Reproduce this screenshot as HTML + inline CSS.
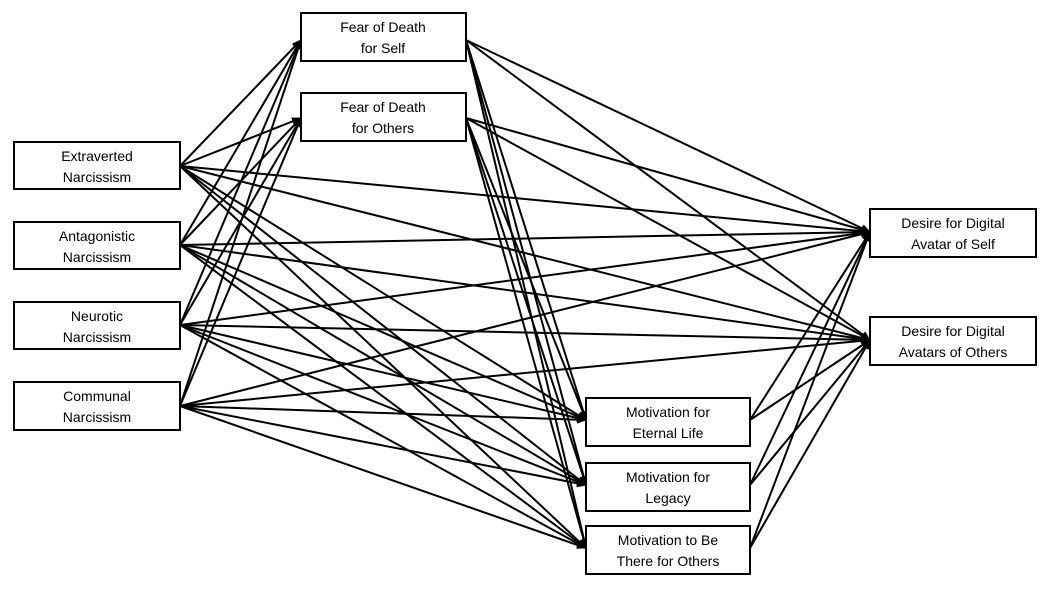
<!DOCTYPE html>
<html><head><meta charset="utf-8"><style>
body{margin:0;background:#fff;width:1048px;height:588px;overflow:hidden}
</style></head><body>
<svg width="1048" height="588" xmlns="http://www.w3.org/2000/svg" font-family="Liberation Sans, sans-serif" font-size="14">
<defs><marker id="a" markerWidth="10" markerHeight="8" refX="9" refY="4" orient="auto" markerUnits="userSpaceOnUse"><path d="M0,0 L10,4 L0,8 z" fill="#000"/></marker></defs>
<g stroke="#000" stroke-width="2" marker-end="url(#a)" fill="none">
<!-- narcissism sources -->
<path d="M180,166 L301,40"/><path d="M180,166 L301,118"/><path d="M180,166 L586,420"/><path d="M180,166 L586,485"/><path d="M180,166 L586,548"/><path d="M180,166 L870,232"/><path d="M180,166 L870,340"/>
<path d="M180,245 L301,40"/><path d="M180,245 L301,118"/><path d="M180,245 L586,420"/><path d="M180,245 L586,485"/><path d="M180,245 L586,548"/><path d="M180,245 L870,232"/><path d="M180,245 L870,340"/>
<path d="M180,325 L301,40"/><path d="M180,325 L301,118"/><path d="M180,325 L586,420"/><path d="M180,325 L586,485"/><path d="M180,325 L586,548"/><path d="M180,325 L870,232"/><path d="M180,325 L870,340"/>
<path d="M180,406 L301,40"/><path d="M180,406 L301,118"/><path d="M180,406 L586,420"/><path d="M180,406 L586,485"/><path d="M180,406 L586,548"/><path d="M180,406 L870,232"/><path d="M180,406 L870,340"/>
<!-- fear sources -->
<path d="M466,40 L586,420"/><path d="M466,40 L586,485"/><path d="M466,40 L586,548"/><path d="M466,40 L870,232"/><path d="M466,40 L870,340"/>
<path d="M466,118 L586,420"/><path d="M466,118 L586,485"/><path d="M466,118 L586,548"/><path d="M466,118 L870,232"/><path d="M466,118 L870,340"/>
<!-- motivation sources -->
<path d="M750,420 L870,232"/><path d="M750,420 L870,340"/>
<path d="M750,485 L870,232"/><path d="M750,485 L870,340"/>
<path d="M750,548 L870,232"/><path d="M750,548 L870,340"/>
</g>
<g fill="#fff" stroke="#000" stroke-width="2">
<rect x="14" y="142" width="166" height="47"/><rect x="14" y="222" width="166" height="47"/>
<rect x="14" y="302" width="166" height="47"/><rect x="14" y="382" width="166" height="48"/>
<rect x="301" y="13" width="165" height="48"/><rect x="301" y="93" width="165" height="48"/>
<rect x="586" y="398" width="164" height="48"/><rect x="586" y="463" width="164" height="48"/><rect x="586" y="526" width="164" height="48"/>
<rect x="870" y="209" width="166" height="48"/><rect x="870" y="317" width="166" height="48"/>
</g>
<g text-anchor="middle" fill="#000">
<text x="97" y="161">Extraverted</text><text x="97" y="182">Narcissism</text>
<text x="97" y="241">Antagonistic</text><text x="97" y="262">Narcissism</text>
<text x="97" y="321">Neurotic</text><text x="97" y="342">Narcissism</text>
<text x="97" y="401">Communal</text><text x="97" y="422">Narcissism</text>
<text x="383" y="32">Fear of Death</text><text x="383" y="53">for Self</text>
<text x="383" y="112">Fear of Death</text><text x="383" y="133">for Others</text>
<text x="668" y="417">Motivation for</text><text x="668" y="438">Eternal Life</text>
<text x="668" y="482">Motivation for</text><text x="668" y="503">Legacy</text>
<text x="668" y="545">Motivation to Be</text><text x="668" y="566">There for Others</text>
<text x="953" y="228">Desire for Digital</text><text x="953" y="249">Avatar of Self</text>
<text x="953" y="336">Desire for Digital</text><text x="953" y="357">Avatars of Others</text>
</g>
</svg>
</body></html>
